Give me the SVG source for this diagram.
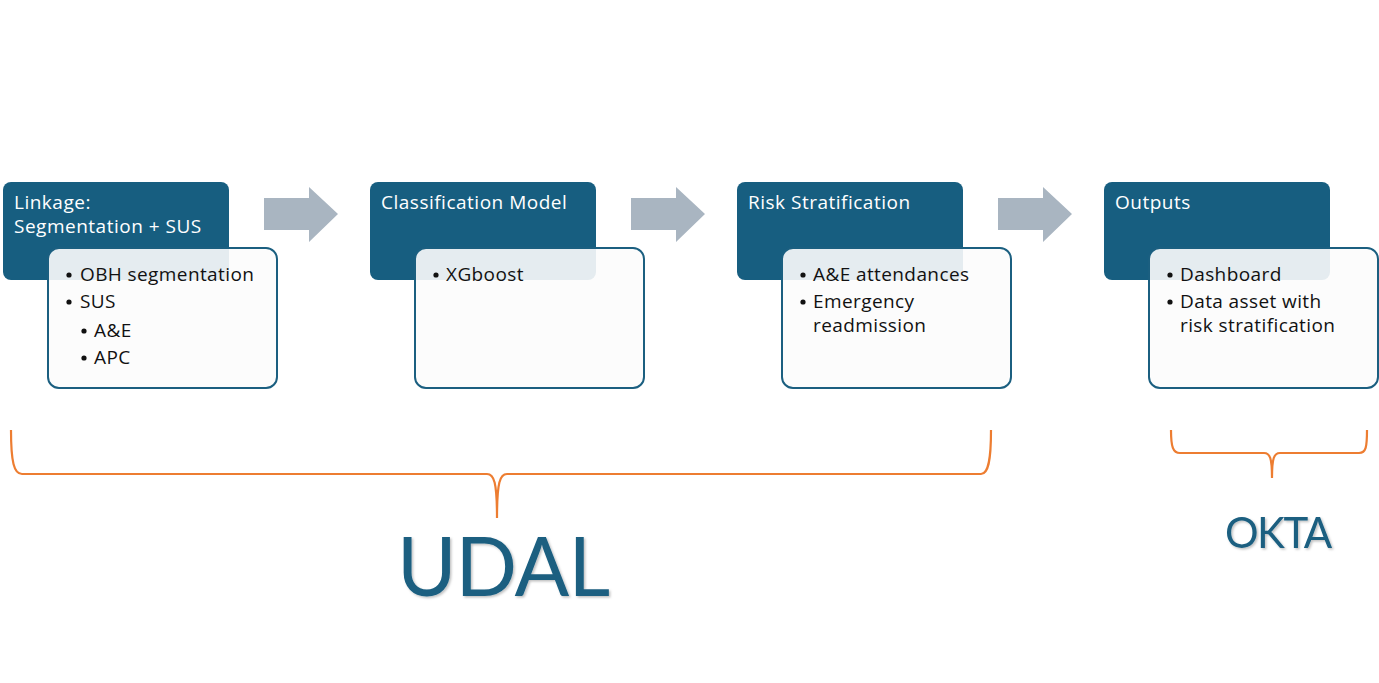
<svg xmlns="http://www.w3.org/2000/svg" width="1379" height="683" viewBox="0 0 1379 683">
<defs>
<style>
.hdr{fill:#175e80;}
.card{fill:#fcfcfc;fill-opacity:0.9;stroke:#1b5f80;stroke-width:2;}
.ttl{font-family:"Open Sans","Liberation Sans",sans-serif;font-size:19px;fill:#ffffff;letter-spacing:0.5px;}
.txt{font-family:"Open Sans","Liberation Sans",sans-serif;font-size:19px;fill:#111111;letter-spacing:0.4px;}
.dot{fill:#111111;}
.arr{fill:#a9b5c1;}
.brace{fill:none;stroke:#ed7d31;stroke-width:2.2;}
.big{font-family:Lato,"Open Sans",sans-serif;fill:#1a5e80;}
</style>
<filter id="sh" x="-10%" y="-10%" width="130%" height="130%">
<feDropShadow dx="1.5" dy="1.5" stdDeviation="1.2" flood-color="#000" flood-opacity="0.25"/>
</filter>
</defs>
<rect width="1379" height="683" fill="#ffffff"/>

<g id="connectors">
<polygon class="arr" points="264,198 309,198 309,187 338,214 309,242 309,230 264,230"/>
<polygon class="arr" points="631,198 676,198 676,187 705,214 676,242 676,230 631,230"/>
<polygon class="arr" points="998,198 1043,198 1043,187 1072,214 1043,242 1043,230 998,230"/>
</g>

<g id="node-linkage">
<rect class="hdr" x="3" y="182" width="226" height="98" rx="8"/>
<text class="ttl" x="14" y="209">Linkage:</text>
<text class="ttl" x="14" y="233">Segmentation + SUS</text>
<rect class="card" x="48" y="248" width="229" height="140" rx="11"/>
<circle class="dot" cx="69" cy="275" r="2.6"/><text class="txt" x="80" y="281">OBH segmentation</text>
<circle class="dot" cx="69" cy="302" r="2.6"/><text class="txt" x="80" y="308">SUS</text>
<circle class="dot" cx="84" cy="331" r="2.6"/><text class="txt" x="94" y="337">A&amp;E</text>
<circle class="dot" cx="84" cy="358" r="2.6"/><text class="txt" x="94" y="364">APC</text>
</g>

<g id="node-classification">
<rect class="hdr" x="370" y="182" width="226" height="98" rx="8"/>
<text class="ttl" x="381" y="209">Classification Model</text>
<rect class="card" x="415" y="248" width="229" height="140" rx="11"/>
<circle class="dot" cx="436" cy="275" r="2.6"/><text class="txt" x="446" y="281">XGboost</text>
</g>

<g id="node-risk">
<rect class="hdr" x="737" y="182" width="226" height="98" rx="8"/>
<text class="ttl" x="748" y="209">Risk Stratification</text>
<rect class="card" x="782" y="248" width="229" height="140" rx="11"/>
<circle class="dot" cx="803" cy="275" r="2.6"/><text class="txt" x="813" y="281">A&amp;E attendances</text>
<circle class="dot" cx="803" cy="302" r="2.6"/><text class="txt" x="813" y="308">Emergency</text>
<text class="txt" x="813" y="332">readmission</text>
</g>

<g id="node-outputs">
<rect class="hdr" x="1104" y="182" width="226" height="98" rx="8"/>
<text class="ttl" x="1115" y="209">Outputs</text>
<rect class="card" x="1149" y="248" width="229" height="140" rx="11"/>
<circle class="dot" cx="1170" cy="275" r="2.6"/><text class="txt" x="1180" y="281">Dashboard</text>
<circle class="dot" cx="1170" cy="302" r="2.6"/><text class="txt" x="1180" y="308">Data asset with</text>
<text class="txt" x="1180" y="332">risk stratification</text>
</g>

<g id="brace-udal">
<path class="brace" d="M11,430 C11,462 14,474 22,474 L487,474 C494,474 497,482 497,518 C497,482 500,474 507,474 L981,474 C988,474 991,462 991,430"/>
<text class="big" x="397" y="596" font-size="81" letter-spacing="-1" filter="url(#sh)">UDAL</text>
</g>

<g id="brace-okta">
<path class="brace" d="M1171,430 C1171,447 1173,453 1180,453 L1264,453 C1270,453 1272,458 1272,478 C1272,458 1274,453 1280,453 L1359,453 C1366,453 1367,447 1367,430"/>
<text class="big" x="1225" y="548" font-size="42" letter-spacing="-1.5" filter="url(#sh)">OKTA</text>
</g>
</svg>
